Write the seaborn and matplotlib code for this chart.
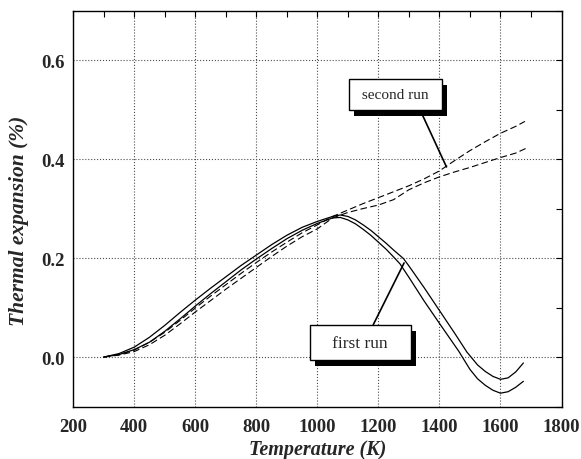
import numpy as np
import pandas as pd
import matplotlib
matplotlib.use("Agg")
import matplotlib.pyplot as plt
import matplotlib.patheffects as pe
from matplotlib.ticker import MultipleLocator, FormatStrFormatter
import seaborn as sns

# first run, two solid curves (K, %)
first_a_temp = [300, 350, 400, 450, 500, 550, 600, 650, 700, 750, 800, 850, 900, 950, 1000,
                1050, 1075, 1100, 1125, 1150, 1175, 1200, 1225, 1250, 1282, 1300, 1350, 1400,
                1450, 1490, 1525, 1550, 1575, 1600, 1625, 1650, 1675]
first_a_val = [0.000, 0.007, 0.020, 0.040, 0.064, 0.090, 0.115, 0.139, 0.162, 0.185, 0.206,
               0.227, 0.246, 0.262, 0.274, 0.284, 0.287, 0.284, 0.277, 0.267, 0.256, 0.243,
               0.230, 0.216, 0.199, 0.184, 0.140, 0.094, 0.048, 0.010, -0.016, -0.029,
               -0.039, -0.045, -0.042, -0.030, -0.012]

first_b_temp = [300, 350, 400, 450, 500, 550, 600, 650, 700, 750, 800, 850, 900, 950, 1000,
                1050, 1075, 1100, 1125, 1150, 1175, 1200, 1225, 1250, 1271, 1300, 1350,
                1400, 1463, 1500, 1525, 1550, 1575, 1600, 1625, 1650, 1675]
first_b_val = [0.000, 0.005, 0.015, 0.030, 0.052, 0.077, 0.103, 0.128, 0.152, 0.176, 0.198,
               0.219, 0.239, 0.256, 0.270, 0.281, 0.282, 0.277, 0.269, 0.258, 0.246, 0.232,
               0.218, 0.202, 0.188, 0.161, 0.113, 0.068, 0.012, -0.025, -0.044, -0.057,
               -0.067, -0.073, -0.070, -0.061, -0.049]

# second run, two dashed curves
second_a_temp = [300, 350, 400, 450, 500, 550, 600, 650, 700, 750, 800, 850, 900, 950, 1000,
                 1050, 1100, 1150, 1200, 1250, 1300, 1350, 1400, 1450, 1500, 1550, 1600,
                 1650, 1680]
second_a_val = [0.000, 0.005, 0.014, 0.030, 0.050, 0.074, 0.099, 0.123, 0.146, 0.169, 0.191,
                0.212, 0.232, 0.251, 0.267, 0.284, 0.297, 0.310, 0.322, 0.334, 0.346, 0.360,
                0.376, 0.397, 0.417, 0.435, 0.452, 0.466, 0.476]

second_b_temp = [300, 350, 400, 450, 500, 550, 600, 650, 700, 750, 800, 850, 900, 950, 1000,
                 1050, 1100, 1150, 1200, 1250, 1300, 1350, 1400, 1450, 1500, 1550, 1600,
                 1650, 1685]
second_b_val = [0.000, 0.004, 0.011, 0.025, 0.044, 0.067, 0.091, 0.114, 0.137, 0.159, 0.181,
                0.203, 0.224, 0.243, 0.259, 0.281, 0.292, 0.300, 0.307, 0.318, 0.338, 0.352,
                0.364, 0.374, 0.383, 0.393, 0.403, 0.412, 0.422]

sns.set_theme(style="white")
plt.rcParams['font.family'] = ['Liberation Serif', 'DejaVu Serif']

fig, ax = plt.subplots(figsize=(5.81, 4.60), dpi=100)
fig.subplots_adjust(left=0.126, right=0.9665, top=0.975, bottom=0.114)

solid = [(first_a_temp, first_a_val), (first_b_temp, first_b_val)]
dashed = [(second_a_temp, second_a_val), (second_b_temp, second_b_val)]

for t, v in solid:
    sns.lineplot(x=t, y=v, ax=ax, color='black', lw=0.9, sort=False)
for t, v in dashed:
    sns.lineplot(x=t, y=v, ax=ax, color='black', lw=0.8, sort=False)
    ax.lines[-1].set_dashes((6, 3))

ax.set_xlim(200, 1800)
ax.set_ylim(-0.1, 0.7)
ax.xaxis.set_major_locator(MultipleLocator(200))
ax.xaxis.set_minor_locator(MultipleLocator(100))
ax.yaxis.set_major_locator(MultipleLocator(0.2))
ax.yaxis.set_minor_locator(MultipleLocator(0.1))
ax.yaxis.set_major_formatter(FormatStrFormatter('%.1f'))

ax.grid(True, which='major', linestyle=':', color='0.3', lw=0.8)
ax.tick_params(which='both', direction='in', top=True, right=True,
               length=4, width=0.8, color='black')
ax.tick_params(axis='x', which='major', pad=8, labelsize=13.5)
ax.tick_params(axis='y', which='major', pad=6, labelsize=13.5)
for lab in ax.get_xticklabels() + ax.get_yticklabels():
    lab.set_fontweight('bold')

for sp in ax.spines.values():
    sp.set_color('black')
    sp.set_linewidth(1.0)

ax.set_xlabel('Temperature (K)', fontsize=14.5, fontweight='bold', fontstyle='italic')
ax.set_ylabel('Thermal expansion (%)', fontsize=15.5, fontweight='bold', fontstyle='italic')
ax.xaxis.set_label_coords(0.5, -0.082)
ax.yaxis.set_label_coords(-0.09, 0.471)

shadow = [pe.SimplePatchShadow(offset=(4, -4.3), shadow_rgbFace='black', alpha=1.0),
          pe.Normal()]

ann2 = ax.annotate(' second run ', xy=(1423, 0.384), xytext=(1255, 0.530),
                   ha='center', va='center', fontsize=11,
                   bbox=dict(boxstyle='square,pad=0.6', fc='white', ec='black', lw=1.0),
                   arrowprops=dict(arrowstyle='-', color='black', lw=1.2,
                                   relpos=(0.78, 0.0), shrinkA=0, shrinkB=0))
ann2.get_bbox_patch().set_path_effects(shadow)

ann1 = ax.annotate('   first run   ', xy=(1284, 0.190), xytext=(1140, 0.029),
                   ha='center', va='center', fontsize=12.5,
                   bbox=dict(boxstyle='square,pad=0.55', fc='white', ec='black', lw=1.0),
                   arrowprops=dict(arrowstyle='-', color='black', lw=1.2,
                                   relpos=(0.6, 1.0), shrinkA=0, shrinkB=0))
ann1.get_bbox_patch().set_path_effects(shadow)

fig.savefig('out.png', dpi=100)
